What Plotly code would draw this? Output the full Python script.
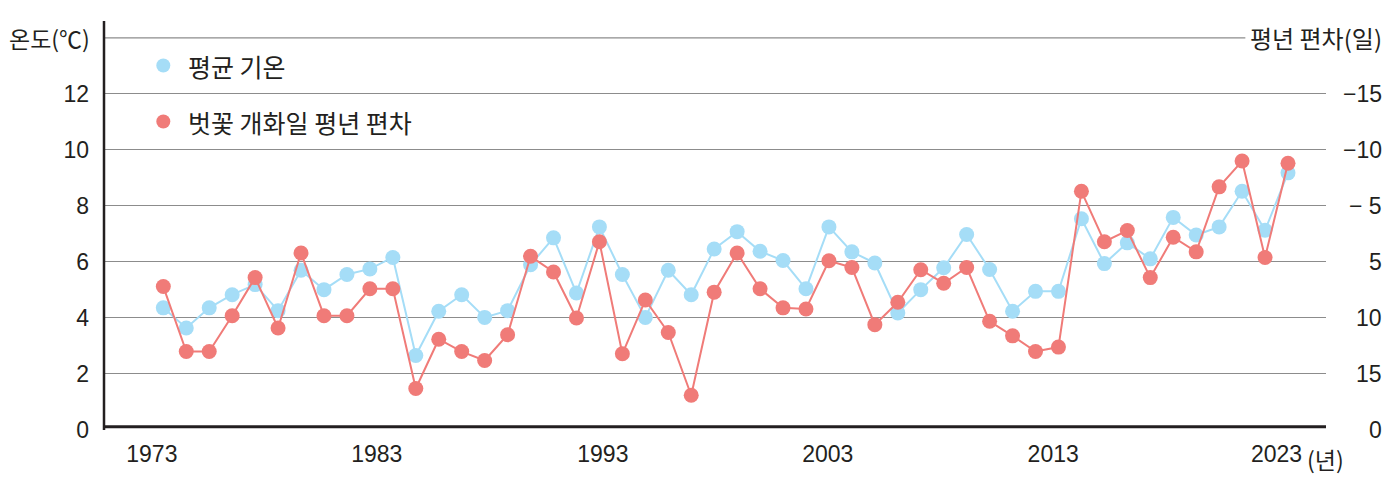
import plotly.graph_objects as go

# ---- data ----
years = list(range(1974, 2024))
avg_temp = [4.36, 3.64, 4.36, 4.83, 5.19, 4.26, 5.70, 5.01, 5.55, 5.75,
            6.16, 2.66, 4.24, 4.83, 4.02, 4.26, 5.90, 6.86, 4.89, 7.25,
            5.55, 4.02, 5.70, 4.83, 6.46, 7.08, 6.38, 6.05, 5.04, 7.25,
            6.36, 5.96, 4.18, 5.01, 5.79, 6.98, 5.73, 4.24, 4.95, 4.95,
            7.54, 5.94, 6.68, 6.11, 7.59, 6.96, 7.25, 8.52, 7.13, 9.18]
# cherry blossom flowering date deviation from normal (days, negative = earlier)
bloom_dev = [2.2, 8.0, 8.0, 4.8, 1.4, 5.9, -0.8, 4.8, 4.8, 2.4,
             2.4, 11.3, 6.9, 8.0, 8.8, 6.5, -0.5, 0.9, 5.0, -1.8,
             8.2, 3.4, 6.3, 11.9, 2.7, -0.8, 2.4, 4.1, 4.2, -0.1,
             0.5, 5.6, 3.6, 0.7, 1.9, 0.5, 5.3, 6.6, 8.0, 7.6,
             -6.3, -1.8, -2.8, 1.4, -2.2, -0.9, -6.7, -9.0, -0.4, -8.8]

left_ticks = [0, 2, 4, 6, 8, 10, 12]
right_tick_vals = [15, 10, 5, 0, -5, -10, -15]
right_tick_text = ["0", "15", "10", "5", "\u2212 5", "\u221210", "\u221215"]
x_tick_text = ["1973", "1983", "1993", "2003", "2013", "2023"]
x_tick_pos = [1973.5, 1983.3, 1993.15, 2002.95, 2012.77, 2022.5]

BLUE = "#a5ddf7"
RED = "#f07b78"
TXT = "#231f20"
GRID = "#8c8c8c"
FONT = "Liberation Sans, Arial, sans-serif"
KFONT = "Noto Sans CJK KR, sans-serif"

fig = go.Figure()
fig.add_trace(go.Scatter(x=years, y=avg_temp, mode="lines+markers",
                         line=dict(color=BLUE, width=2),
                         marker=dict(color=BLUE, size=15),
                         name="평균 기온", yaxis="y"))
fig.add_trace(go.Scatter(x=years, y=bloom_dev, mode="lines+markers",
                         line=dict(color=RED, width=2),
                         marker=dict(color=RED, size=15),
                         name="벗꽃 개화일 평년 편차", yaxis="y2"))

shapes = [
    # top grid line (14)
    dict(type="line", xref="paper", yref="y", x0=0, x1=0.934, y0=14, y1=14,
         line=dict(color=GRID, width=1.2)),
    # bottom axis line
    dict(type="line", xref="paper", yref="y", x0=0, x1=1, y0=0.12, y1=0.12,
         line=dict(color=TXT, width=3)),
    # left axis line
    dict(type="line", xref="paper", yref="paper", x0=0, x1=0, y0=0.0, y1=1,
         line=dict(color=TXT, width=2.5)),
]
# legend dots
for yy, col in [(66, BLUE), (122, RED)]:
    yd = (430.3 - yy) / 28.0
    shapes.append(dict(type="circle", xref="x", yref="y", xsizemode="pixel",
                       ysizemode="pixel", xanchor=1974, yanchor=yd,
                       x0=-7, x1=7, y0=-7, y1=7,
                       fillcolor=col, line=dict(width=0)))

annotations = [
    dict(text="온도(℃)", xref="paper", yref="y", x=-0.01, y=14, xanchor="right",
         yanchor="middle", showarrow=False, font=dict(family=KFONT, size=23, color=TXT)),
    dict(text="평년 편차(일)", xref="paper", yref="y", x=1.0475, y=14, xanchor="right",
         yanchor="middle", showarrow=False, font=dict(family=KFONT, size=24, color=TXT)),
    dict(text="(년)", xref="x", yref="paper", x=2023.75, y=0, xanchor="left",
         yanchor="top", yshift=-10, showarrow=False,
         font=dict(family=KFONT, size=23, color=TXT)),
    dict(text="평균 기온", xref="x", yref="y", x=1975, y=(430.3 - 66) / 28.0,
         xanchor="left", yanchor="middle", showarrow=False,
         font=dict(family=KFONT, size=25, color=TXT)),
    dict(text="벗꽃 개화일 평년 편차", xref="x", yref="y", x=1975, y=(430.3 - 122) / 28.0,
         xanchor="left", yanchor="middle", showarrow=False,
         font=dict(family=KFONT, size=25, color=TXT)),
]
for v, t in zip(right_tick_vals, right_tick_text):
    annotations.append(dict(text=t, xref="paper", yref="y2", x=1.0475, y=v,
                            xanchor="right", yanchor="middle", showarrow=False,
                            font=dict(family=FONT, size=23, color=TXT)))

# page body has an 8px default margin, so the figure is 8px smaller
fig.update_layout(
    width=1389, height=481,
    margin=dict(l=96, r=71, t=13, b=59),
    paper_bgcolor="white", plot_bgcolor="white",
    showlegend=False,
    font=dict(family=FONT, size=23, color=TXT),
    xaxis=dict(range=[1971.416, 2024.656], tickvals=x_tick_pos, ticktext=x_tick_text,
               showgrid=False, zeroline=False, showline=False, ticks="",
               ticklabelstandoff=8, tickfont=dict(family=FONT, size=23, color=TXT)),
    yaxis=dict(range=[0, 14.6], tickvals=left_ticks, showgrid=True, gridcolor=GRID,
               gridwidth=1.2, zeroline=False, showline=False, ticks="",
               ticklabelstandoff=14, tickfont=dict(family=FONT, size=23, color=TXT)),
    yaxis2=dict(range=[15, -21.5], overlaying="y", side="right", showgrid=False,
                zeroline=False, showline=False, showticklabels=False, ticks=""),
    shapes=shapes,
    annotations=annotations,
)

fig.write_html("out.html")
